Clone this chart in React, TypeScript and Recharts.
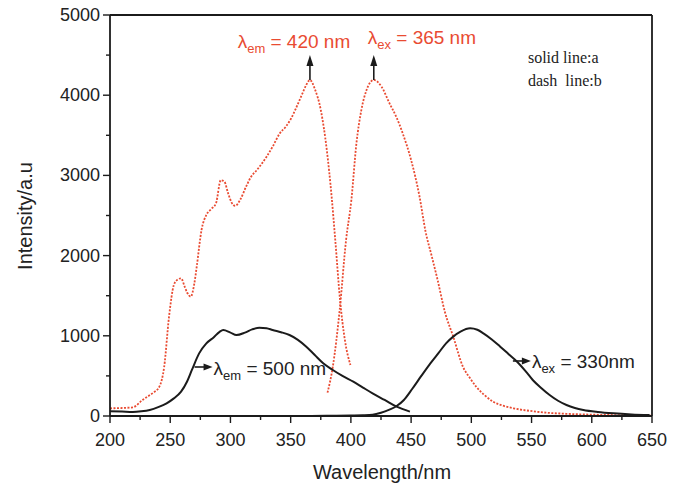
import { LineChart, Line, XAxis, YAxis, ReferenceDot } from 'recharts'

const RED = '#e94b32'
const BLACK = '#1b1b1b'
const SANS = '"Liberation Sans", Arial, sans-serif'
const SERIF = '"Liberation Serif", "Times New Roman", serif'

// solid line a: excitation, monitored at 500 nm
const exA_nm = [200, 210, 219, 226, 233, 240, 247, 253, 259, 264, 268, 274, 280, 286, 291, 294, 300, 305, 312, 318, 324, 330, 335, 342, 349, 356, 363, 370, 377, 385, 393, 402, 410, 418, 428, 438, 449]
const exA_int = [60, 55, 50, 58, 75, 110, 158, 220, 303, 430, 574, 781, 906, 980, 1050, 1072, 1040, 1010, 1040, 1080, 1101, 1095, 1072, 1045, 1010, 950, 864, 760, 657, 574, 500, 428, 355, 283, 200, 116, 55]

// solid line a: emission, excited at 330 nm
const emA_nm = [350, 380, 400, 410, 418, 425, 432, 438, 444, 451, 458, 466, 473, 479, 485, 491, 499, 505, 510, 517, 524, 531, 538, 545, 551, 558, 565, 572, 579, 586, 593, 605, 618, 633, 648]
const emA_int = [0, 2, 5, 8, 15, 40, 80, 125, 200, 340, 490, 657, 790, 906, 990, 1051, 1093, 1075, 1031, 955, 864, 770, 677, 560, 449, 350, 262, 190, 137, 100, 75, 50, 33, 20, 12]

// dash line b: excitation, monitored at 420 nm
const exB_nm = [200, 210, 219, 227, 232, 236, 241, 245, 249, 253, 256, 259, 262, 264, 267, 270, 272, 276, 280, 284, 288, 292, 295, 298, 301, 304, 308, 313, 317, 322, 330, 335, 341, 346, 350, 355, 360, 363, 366, 370, 375, 380, 384, 387, 391, 395, 399.6]
const exB_int = [96, 100, 108, 200, 250, 291, 366, 615, 1238, 1633, 1700, 1717, 1612, 1540, 1488, 1650, 1862, 2320, 2507, 2580, 2652, 2940, 2922, 2780, 2660, 2620, 2694, 2860, 2980, 3068, 3233, 3358, 3525, 3608, 3700, 3857, 4030, 4130, 4190, 4080, 3816, 3317, 2735, 2200, 1447, 948, 636]

// dash line b: emission, excited at 365 nm
const emB_nm = [380.6, 385, 390.7, 396, 400.4, 404.6, 408.7, 413, 419, 425.4, 432, 438, 443, 450, 457, 462, 467, 472, 478, 485, 493, 499, 504, 511, 518, 526, 535, 548, 562, 575, 590, 610, 630, 650]
const emB_int = [291, 615, 1322, 2195, 2694, 3400, 3816, 4065, 4190, 4107, 3900, 3720, 3525, 3192, 2735, 2300, 2000, 1696, 1300, 989, 615, 470, 366, 260, 179, 130, 96, 65, 42, 30, 21, 14, 9, 5]

const X_TICKS = [200, 225, 250, 275, 300, 325, 350, 375, 400, 425, 450, 475, 500, 525, 550, 575, 600, 625, 650]
const Y_TICKS = [0, 500, 1000, 1500, 2000, 2500, 3000, 3500, 4000, 4500, 5000]

const zip = (xs: number[], ys: number[]) => xs.map((x, i) => ({ x, y: ys[i] }))

const BottomTick = ({ x, y, payload }: any) => {
  const major = payload.value % 50 === 0
  return (
    <g>
      <line x1={x} y1={y} x2={x} y2={y + (major ? 7 : 4)} stroke={BLACK} strokeWidth={1.4} />
      {major && (
        <text x={x} y={y + 30} textAnchor="middle" fontSize={18} fontFamily={SANS} fill="#222">
          {payload.value}
        </text>
      )}
    </g>
  )
}

const TopTick = ({ x, y, payload }: any) => {
  const major = payload.value % 50 === 0
  return <line x1={x} y1={y} x2={x} y2={y + (major ? 5 : 3)} stroke={BLACK} strokeWidth={1.2} />
}

const LeftTick = ({ x, y, payload }: any) => {
  const major = payload.value % 1000 === 0
  return (
    <g>
      <line x1={x - (major ? 7 : 4)} y1={y} x2={x} y2={y} stroke={BLACK} strokeWidth={1.4} />
      {major && (
        <text x={x - 10} y={y + 6} textAnchor="end" fontSize={18} fontFamily={SANS} fill="#222">
          {payload.value}
        </text>
      )}
    </g>
  )
}

const RightTick = ({ x, y, payload }: any) => {
  const major = payload.value % 1000 === 0
  return <line x1={x - (major ? 5 : 3)} y1={y} x2={x} y2={y} stroke={BLACK} strokeWidth={1.2} />
}

const UpArrow = ({ cx, cy }: any) => (
  <g>
    <line x1={cx} y1={cy} x2={cx} y2={cy - 16} stroke={BLACK} strokeWidth={1.6} />
    <path d={`M${cx - 3.5},${cy - 14} L${cx},${cy - 25} L${cx + 3.5},${cy - 14} Z`} fill={BLACK} />
  </g>
)

const Lambda = ({ cx, cy, sub, rest, color, size }: any) => (
  <text x={cx} y={cy} fontFamily={SANS} fontSize={size} fill={color}>
    <tspan>λ</tspan>
    <tspan dy={5} fontSize={13}>{sub}</tspan>
    <tspan dy={-5}>{rest}</tspan>
  </text>
)

const ArrowLabel = ({ cx, cy, sub, rest, dy }: any) => (
  <g>
    <line x1={cx} y1={cy} x2={cx + 10} y2={cy} stroke={BLACK} strokeWidth={1.6} />
    <path d={`M${cx + 9},${cy - 3.5} L${cx + 18},${cy} L${cx + 9},${cy + 3.5} Z`} fill={BLACK} />
    <Lambda cx={cx + 19} cy={cy + dy} sub={sub} rest={rest} color="#222" size={19} />
  </g>
)

const PlainText = ({ cx, cy, text }: any) => (
  <text x={cx} y={cy} fontFamily={SERIF} fontSize={16} fill="#222">{text}</text>
)

export default function App() {
  return (
    <div style={{ position: 'absolute', left: 0, top: 0, background: '#fff' }}>
      <LineChart width={686} height={488} margin={{ top: 14, right: 33, bottom: 71, left: 109 }}>
        <XAxis xAxisId="b" type="number" dataKey="x" domain={[200, 650]} ticks={X_TICKS} interval={0}
          height={1} tickSize={0} tickMargin={0} tickLine={false} allowDataOverflow stroke={BLACK}
          axisLine={{ stroke: BLACK, strokeWidth: 1.8 }} tick={(p: any) => <BottomTick {...p} />} />
        <XAxis xAxisId="t" orientation="top" type="number" domain={[200, 650]} ticks={X_TICKS} interval={0}
          height={1} tickSize={0} tickMargin={0} tickLine={false} stroke={BLACK}
          axisLine={{ stroke: BLACK, strokeWidth: 1.8 }} tick={(p: any) => <TopTick {...p} />} />
        <YAxis yAxisId="l" type="number" domain={[0, 5000]} ticks={Y_TICKS} interval={0}
          width={1} tickSize={0} tickMargin={0} tickLine={false} allowDataOverflow stroke={BLACK}
          axisLine={{ stroke: BLACK, strokeWidth: 1.8 }} tick={(p: any) => <LeftTick {...p} />} />
        <YAxis yAxisId="r" orientation="right" type="number" domain={[0, 5000]} ticks={Y_TICKS} interval={0}
          width={1} tickSize={0} tickMargin={0} tickLine={false} stroke={BLACK}
          axisLine={{ stroke: BLACK, strokeWidth: 1.8 }} tick={(p: any) => <RightTick {...p} />} />

        <Line xAxisId="b" yAxisId="l" data={zip(exB_nm, exB_int)} dataKey="y" type="monotone"
          stroke={RED} strokeWidth={1.8} strokeDasharray="2 1.5" dot={false} isAnimationActive={false} />
        <Line xAxisId="b" yAxisId="l" data={zip(emB_nm, emB_int)} dataKey="y" type="monotone"
          stroke={RED} strokeWidth={1.8} strokeDasharray="2 1.5" dot={false} isAnimationActive={false} />
        <Line xAxisId="b" yAxisId="l" data={zip(exA_nm, exA_int)} dataKey="y" type="monotone"
          stroke={BLACK} strokeWidth={2} dot={false} isAnimationActive={false} />
        <Line xAxisId="b" yAxisId="l" data={zip(emA_nm, emA_int)} dataKey="y" type="monotone"
          stroke={BLACK} strokeWidth={2} dot={false} isAnimationActive={false} />

        <ReferenceDot xAxisId="b" yAxisId="l" x={366} y={4190} shape={(p: any) => <UpArrow {...p} />} />
        <ReferenceDot xAxisId="b" yAxisId="l" x={419} y={4190} shape={(p: any) => <UpArrow {...p} />} />
        <ReferenceDot xAxisId="b" yAxisId="l" x={306} y={4590}
          shape={(p: any) => <Lambda {...p} sub="em" rest=" = 420 nm" color={RED} size={19} />} />
        <ReferenceDot xAxisId="b" yAxisId="l" x={414} y={4640}
          shape={(p: any) => <Lambda {...p} sub="ex" rest=" = 365 nm" color={RED} size={19} />} />
        <ReferenceDot xAxisId="b" yAxisId="l" x={270.2} y={611}
          shape={(p: any) => <ArrowLabel {...p} sub="em" rest=" = 500 nm" dy={8} />} />
        <ReferenceDot xAxisId="b" yAxisId="l" x={534.5} y={686}
          shape={(p: any) => <ArrowLabel {...p} sub="ex" rest=" = 330nm" dy={7} />} />
        <ReferenceDot xAxisId="b" yAxisId="l" x={547} y={4402}
          shape={(p: any) => <PlainText {...p} text="solid line:a" />} />
        <ReferenceDot xAxisId="b" yAxisId="l" x={547} y={4115}
          shape={(p: any) => <PlainText {...p} text={'dash\u00a0 line:b'} />} />

        <text x={382} y={479} textAnchor="middle" fontFamily={SANS} fontSize={20} fill="#222">Wavelength/nm</text>
        <text x={32} y={216} textAnchor="middle" fontFamily={SANS} fontSize={20} fill="#222"
          transform="rotate(-90 32 216)">Intensity/a.u</text>
      </LineChart>
    </div>
  )
}
